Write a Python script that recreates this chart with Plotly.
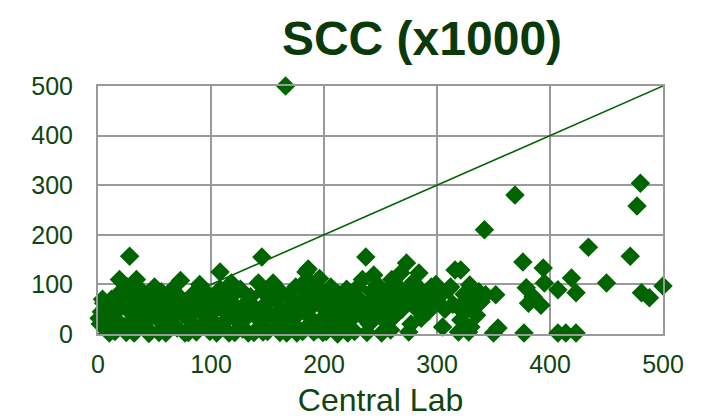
import plotly.graph_objects as go

central_lab = [
    2, 3, 5, 1, 8, 6, 9,
    12, 14, 15, 17, 19, 18, 20,
    22, 24, 26, 28, 28, 30, 32, 34, 33, 35,
    38, 40, 42, 44, 46, 48, 50,
    52, 55, 56, 58, 60, 62, 64, 65,
    67, 70, 72, 73, 75, 78, 80,
    82, 84, 86, 88, 90, 91, 93, 95,
    97, 99, 100, 102, 104, 108, 108, 110,
    112, 114, 116, 118, 120, 122, 124,
    126, 128, 130, 132, 135, 138, 140,
    142, 144, 145, 146, 148, 150, 152, 155,
    157, 158, 160, 162, 164, 166, 167, 168,
    171, 173, 175, 177, 179, 181, 183, 185,
    184, 196, 182,
    186, 187, 189, 190, 192, 194, 196, 198, 200,
    202, 204, 206, 208, 210, 212, 213, 215, 215,
    218, 220, 222, 225, 227, 229, 230, 232, 234,
    237, 238, 240, 242, 244, 245, 247, 249, 251, 252, 255, 257, 259, 260,
    262, 264, 266, 268, 269, 271, 273, 275, 275, 277, 279, 280, 282, 284, 285,
    286, 288, 290, 292, 295, 297, 299,
    302, 305, 307, 310, 312, 314, 316, 319, 319,
    321, 321, 324, 326, 328, 329, 330, 333, 335, 337, 339, 342, 343,
    350, 352, 354,
    369, 376, 377, 379, 381, 385, 392, 394, 395,
    407, 407, 414, 419, 423, 423, 434, 450, 471, 477, 480, 481, 488, 500,
    10, 25, 45, 54, 77, 87, 105, 121, 133, 146, 161, 176, 191, 199, 221, 238,
    4, 11, 36, 63, 94, 127, 153, 170, 205,
]

device_scc = [
    20, 45, 62, 32, 8, 52, 30,
    70, 40, 5, 55, 110, 25, 85,
    65, 15, 95, 157, 45, 78, 2, 110, 30, 60,
    88, 20, 50, 72, 5, 38, 95,
    60, 25, 85, 45, 2, 70, 30, 88,
    55, 12, 75, 108, 40, 60, 3,
    25, 80, 50, 70, 100, 15, 40, 85,
    60, 5, 30, 75, 50, 125, 90, 20,
    65, 40, 2, 103, 80, 55, 25,
    90, 10, 60, 35, 75, 3, 50,
    103, 25, 155, 85, 60, 5, 40, 103,
    70, 15, 89, 50, 30, 500, 2, 75,
    55, 20, 95, 40, 65, 5, 85, 110,
    125, 112, 8,
    131, 50, 30, 75, 100, 10, 60, 85, 35,
    5, 70, 95, 50, 20, 0, 80, 45, 12,
    65, 90, 25, 55, 5, 75, 95, 40, 110,
    155, 60, 20, 85, 119, 45, 100, 70, 2, 30, 85, 55, 8, 110,
    35, 75, 95, 123, 50, 65, 143, 85, 4, 20, 105, 55, 70, 123, 90,
    32, 60, 80, 45, 95, 65, 100,
    75, 14, 50, 89, 95, 60, 129, 54, 4,
    129, 28, 80, 48, 4, 99, 14, 70, 38, 85, 65, 210, 79,
    2, 79, 12,
    280, 145, 2, 93, 62, 75, 58, 133, 103,
    89, 2, 2, 113, 83, 2, 175, 103, 157, 258, 304, 83, 73, 97,
    2, 3, 1, 3, 2, 4, 2, 3, 2, 4, 3, 2, 4, 3, 2, 3,
    70, 20, 40, 55, 65, 45, 70, 40, 30,
]

line_x = [0, 500]
line_y = [0, 500]

x_ticks = [0, 100, 200, 300, 400, 500]
y_ticks = [0, 100, 200, 300, 400, 500]

GREEN = "#006400"
TEXT = "#0f450f"
GRID = "#9a9a9a"
FONT = "Arial, Liberation Sans, sans-serif"

fig = go.Figure()
fig.add_trace(go.Scatter(
    x=line_x, y=line_y, mode="lines",
    line=dict(color=GREEN, width=1.6),
    showlegend=False, hoverinfo="skip",
))
fig.add_trace(go.Scatter(
    x=central_lab, y=device_scc, mode="markers",
    marker=dict(symbol="diamond", size=15, color=GREEN, line=dict(width=0)),
    cliponaxis=False, showlegend=False,
))

fig.update_layout(
    width=707, height=418,
    margin=dict(l=90, r=52, t=78, b=92),
    paper_bgcolor="white", plot_bgcolor="white",
    font=dict(family=FONT, color=TEXT),
    title=dict(
        text="<b>SCC (x1000)</b>",
        font=dict(family=FONT, size=48, color="#0a3a0a"),
        xref="container", yref="container",
        x=414 / 707, xanchor="center",
        y=1 - 30 / 418, yanchor="middle",
    ),
)

fig.update_xaxes(
    range=[0, 500], tickvals=x_ticks,
    showgrid=True, gridcolor=GRID, gridwidth=2,
    showline=True, linecolor=GRID, linewidth=2, mirror=True,
    zeroline=False,
    ticks="outside", ticklen=7, tickcolor="rgba(0,0,0,0)",
    tickfont=dict(size=25, color=TEXT, family=FONT),
    title=dict(text="Central Lab", font=dict(size=32, color=TEXT, family=FONT), standoff=12),
    automargin=False,
)
fig.update_yaxes(
    range=[0, 500], tickvals=y_ticks,
    showgrid=True, gridcolor=GRID, gridwidth=2,
    showline=True, linecolor=GRID, linewidth=2, mirror=True,
    zeroline=False,
    ticks="outside", ticklen=18, tickcolor="rgba(0,0,0,0)",
    tickfont=dict(size=25, color=TEXT, family=FONT),
    automargin=False,
)

fig.write_html("out.html")
